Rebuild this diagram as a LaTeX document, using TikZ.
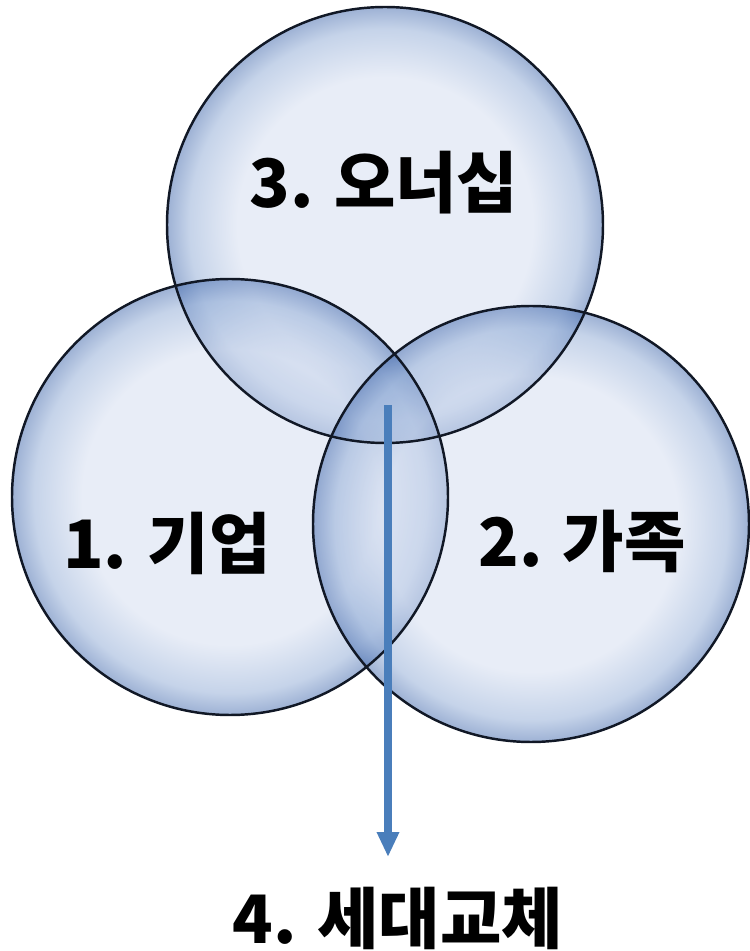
\documentclass[tikz,border=0pt]{standalone}
\usepackage{fontspec}
\newfontfamily\krfont{Noto Sans CJK KR}
\usetikzlibrary{arrows.meta}
\definecolor{bubin}{RGB}{209,219,239}
\definecolor{bubmid}{RGB}{140,168,212}
\definecolor{bubrim}{RGB}{60,100,170}
\definecolor{rimline}{HTML}{111826}
\definecolor{flow}{HTML}{4A7EBB}
\pgfdeclareradialshading{bubble}{\pgfpoint{0bp}{0bp}}{color(0bp)=(bubin); color(17bp)=(bubin); color(22.5bp)=(bubmid); color(25bp)=(bubrim); color(50bp)=(bubrim)}
\tikzset{
  bub/.style={circle, minimum size=8.72cm, inner sep=0pt, shading=bubble, fill opacity=0.5},
  rim/.style={rimline, line width=1.4pt},
  lbl/.style={font=\krfont\bfseries\fontsize{38}{44}\selectfont, text=black, inner sep=0pt},
  flowarrow/.style={flow, line width=4pt, -{Triangle[length=0.5cm, width=0.42cm]}}
}

\begin{document}
\begin{tikzpicture}[x=0.02cm, y=0.02cm]
  \useasboundingbox (0,0) rectangle (750,951);
  % three bubbles
  \node[bub] (owner) at (385,726) {};
  \node[bub] (firm) at (230,454) {};
  \node[bub] (family) at (531,427) {};
  \foreach \c in {owner,firm,family}{
    \draw[rim] (\c.center) circle[radius=218];
  }
  \node[lbl] (ownerlbl) at (384,768) {3. 오너십};
  \node[lbl] (firmlbl) at (167,408) {1. 기업};
  \node[lbl] (familylbl) at (582,410) {2. 가족};
  \node[lbl] (genlbl) at (398,33) {4. 세대교체};
  % succession arrow out of the centre
  \coordinate (core) at (388,546);
  \coordinate (tip) at (388,94);
  \draw[flowarrow] (core) -- (tip);
\end{tikzpicture}
\end{document}
